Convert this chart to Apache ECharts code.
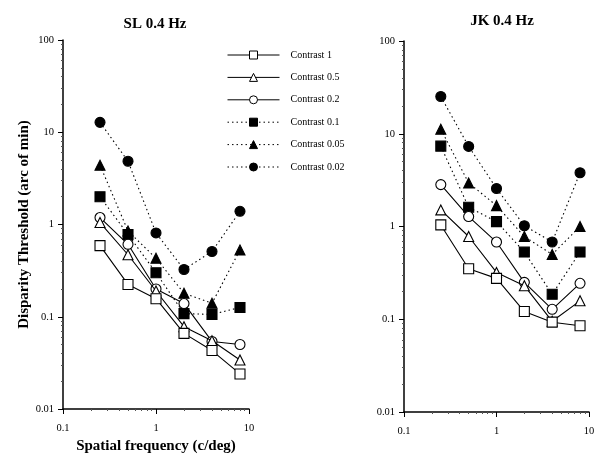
<!DOCTYPE html>
<html>
<head>
<meta charset="utf-8">
<script src="https://cdn.jsdelivr.net/npm/echarts@6/dist/echarts.min.js"></script>
<style>
  html, body { margin: 0; padding: 0; background: #fff; }
  #chart { width: 603px; height: 454px; }
</style>
</head>
<body>
<div id="chart"></div>
<script>
// spatial frequencies (c/deg)
const freqs = [0.25, 0.5, 1, 2, 4, 8];
const contrastNames = ['Contrast 1', 'Contrast 0.5', 'Contrast 0.2', 'Contrast 0.1', 'Contrast 0.05', 'Contrast 0.02'];

// SL thresholds (arc of min)
const slC1   = [0.59, 0.224, 0.157, 0.066, 0.043, 0.024];
const slC05  = [1.05, 0.47, 0.19, 0.078, 0.055, 0.034];
const slC02  = [1.19, 0.61, 0.2, 0.139, 0.054, 0.05];
const slC01  = [2.0, 0.78, 0.30, 0.108, 0.106, 0.126];
const slC005 = [4.4, 0.85, 0.43, 0.18, 0.14, 0.53];
const slC002 = [12.8, 4.85, 0.81, 0.325, 0.51, 1.39];

// JK thresholds (arc of min)
const jkC1   = [1.04, 0.35, 0.276, 0.121, 0.093, 0.085];
const jkC05  = [1.51, 0.78, 0.32, 0.23, 0.095, 0.158];
const jkC02  = [2.83, 1.28, 0.68, 0.25, 0.128, 0.244];
const jkC01  = [7.35, 1.61, 1.13, 0.53, 0.186, 0.53];
const jkC005 = [11.2, 2.95, 1.68, 0.78, 0.50, 1.0];
const jkC002 = [25.2, 7.3, 2.57, 1.02, 0.68, 3.8];

const xRange = [0.1, 10];
const yRange = [0.01, 100];

const font = '"Liberation Serif", "DejaVu Serif", serif';

// marker look per contrast
const styles = [
  { symbol: 'rect', size: 10, fill: '#fff', dash: 'solid' },
  { symbol: 'triangle', size: 10, fill: '#fff', dash: 'solid' },
  { symbol: 'circle', size: 10, fill: '#fff', dash: 'solid' },
  { symbol: 'rect', size: 10, fill: '#000', dash: [1.5, 3] },
  { symbol: 'triangle', size: 10, fill: '#000', dash: [1.5, 3] },
  { symbol: 'circle', size: 10, fill: '#000', dash: [1.5, 3] }
];

const slData = [slC1, slC05, slC02, slC01, slC005, slC002];
const jkData = [jkC1, jkC05, jkC02, jkC01, jkC005, jkC002];

const makeSeries = (sets, idx) => sets.map((vals, i) => ({
  name: contrastNames[i],
  type: 'line',
  xAxisIndex: idx,
  yAxisIndex: idx,
  data: freqs.map((f, j) => [f, vals[j]]),
  symbol: styles[i].symbol,
  symbolSize: styles[i].size,
  showAllSymbol: true,
  lineStyle: { color: '#000', width: 1.1, type: styles[i].dash },
  itemStyle: { color: styles[i].fill, borderColor: '#000', borderWidth: 1.1 },
  emphasis: { disabled: true },
  z: 10 - i
}));

const xAxisBase = (gridIndex, name) => ({
  type: 'log',
  logBase: 10,
  gridIndex: gridIndex,
  min: xRange[0],
  max: xRange[1],
  name: name,
  nameLocation: 'middle',
  nameGap: 29,
  nameTextStyle: { fontFamily: font, fontSize: 15, fontWeight: 'bold', color: '#000' },
  axisLine: { lineStyle: { color: '#000', width: 1.5 } },
  axisTick: { length: 5, lineStyle: { color: '#000' } },
  minorTick: { show: true, splitNumber: 9, length: 2, lineStyle: { color: '#555' } },
  axisLabel: { fontFamily: font, fontSize: 10.5, color: '#000', margin: 14 },
  splitLine: { show: false }
});

const yAxisBase = (gridIndex, name) => ({
  type: 'log',
  logBase: 10,
  gridIndex: gridIndex,
  min: yRange[0],
  max: yRange[1],
  name: name,
  nameLocation: 'middle',
  nameGap: 31,
  nameRotate: 90,
  nameTextStyle: { fontFamily: font, fontSize: 15, fontWeight: 'bold', color: '#000' },
  axisLine: { lineStyle: { color: '#000', width: 1.5 } },
  axisTick: { length: 5, lineStyle: { color: '#000' } },
  minorTick: { show: true, splitNumber: 9, length: 2, lineStyle: { color: '#555' } },
  axisLabel: { fontFamily: font, fontSize: 10.5, color: '#000', margin: 9 },
  splitLine: { show: false }
});

const chart = echarts.init(document.getElementById('chart'));
chart.setOption({
  animation: false,
  backgroundColor: '#fff',
  title: [
    { text: 'SL 0.4 Hz', left: 150, top: 12, textAlign: 'center',
      textStyle: { fontFamily: font, fontSize: 15, fontWeight: 'bold', color: '#000' } },
    { text: 'JK 0.4 Hz', left: 497, top: 9, textAlign: 'center',
      textStyle: { fontFamily: font, fontSize: 15, fontWeight: 'bold', color: '#000' } }
  ],
  legend: {
    data: contrastNames,
    orient: 'vertical',
    left: 222,
    top: 45,
    itemWidth: 52,
    itemHeight: 10,
    itemGap: 12.4,
    lineStyle: { width: 1 },
    itemStyle: { borderWidth: 1 },
    textStyle: { fontFamily: font, fontSize: 10, color: '#000', padding: [0, 0, 0, 6] }
  },
  grid: [
    { left: 63, top: 40, width: 186, height: 369, outerBoundsMode: 'none' },
    { left: 404, top: 41, width: 185, height: 371, outerBoundsMode: 'none' }
  ],
  xAxis: [
    xAxisBase(0, 'Spatial frequency (c/deg)'),
    xAxisBase(1, '')
  ],
  yAxis: [
    yAxisBase(0, 'Disparity Threshold (arc of min)'),
    yAxisBase(1, '')
  ],
  series: makeSeries(slData, 0).concat(makeSeries(jkData, 1))
});
</script>
</body>
</html>
